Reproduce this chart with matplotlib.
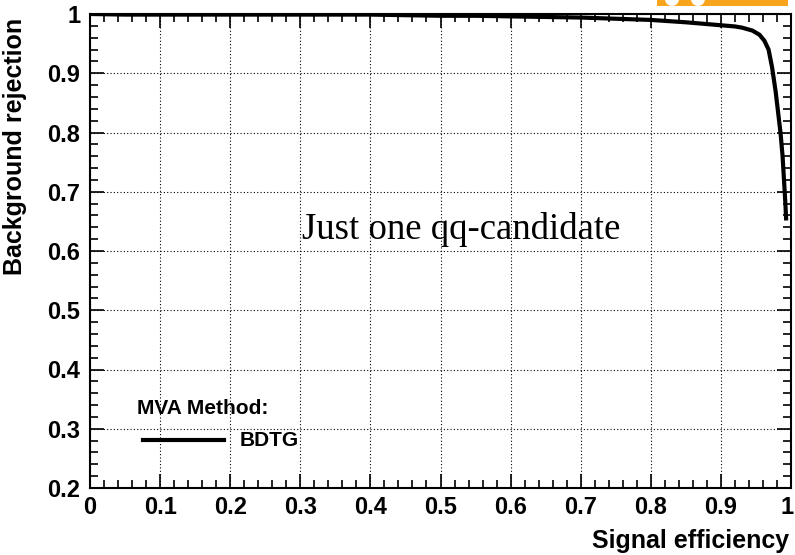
import matplotlib.pyplot as plt
import matplotlib.transforms as mtransforms
from matplotlib.patches import Rectangle, Ellipse
from matplotlib.ticker import MultipleLocator

# ROC curve
sigEff = [0.0, 0.05, 0.10, 0.20, 0.30, 0.40, 0.45, 0.50, 0.55, 0.60, 0.65, 0.70,
          0.75, 0.80, 0.85, 0.87, 0.90, 0.92, 0.93, 0.945, 0.955, 0.962,
          0.968, 0.973, 0.978, 0.982, 0.985, 0.988, 0.990, 0.992, 0.993]
bkgRej = [1.0, 0.999, 0.999, 0.999, 0.999, 0.999, 0.998, 0.997, 0.997, 0.996, 0.995, 0.994,
          0.992, 0.990, 0.986, 0.984, 0.981, 0.979, 0.977, 0.972, 0.965, 0.955,
          0.94, 0.91, 0.87, 0.83, 0.80, 0.76, 0.72, 0.68, 0.655]

xTicks = [0, 0.1, 0.2, 0.3, 0.4, 0.5, 0.6, 0.7, 0.8, 0.9, 1]
yTicks = [0.2, 0.3, 0.4, 0.5, 0.6, 0.7, 0.8, 0.9, 1]
xTickLabels = ['0', '0.1', '0.2', '0.3', '0.4', '0.5', '0.6', '0.7', '0.8', '0.9', '1']
yTickLabels = ['0.2', '0.3', '0.4', '0.5', '0.6', '0.7', '0.8', '0.9', '1']

bold = 'Liberation Sans'

fig = plt.figure(figsize=(7.95, 5.55), dpi=100)
ax = fig.add_axes([90/795, 67/555, 701/795, 474/555])

ax.plot(sigEff, bkgRej, color='black', lw=3, solid_joinstyle='miter', zorder=5)

ax.set_xlim(0, 1)
ax.set_ylim(0.2, 1)
ax.set_xticks(xTicks)
ax.set_xticklabels(xTickLabels)
ax.set_yticks(yTicks)
ax.set_yticklabels(yTickLabels)
ax.xaxis.set_minor_locator(MultipleLocator(0.02))
ax.yaxis.set_minor_locator(MultipleLocator(0.02))
ax.tick_params(axis='both', which='both', direction='in', top=True, right=True,
               width=1.2, labelsize=17)
ax.tick_params(axis='both', which='major', length=10)
ax.tick_params(axis='both', which='minor', length=6)
ax.tick_params(axis='x', which='both', pad=6)
ax.tick_params(axis='y', which='both', pad=7)
for lab in ax.get_xticklabels() + ax.get_yticklabels():
    lab.set_fontfamily(bold)
    lab.set_fontweight('bold')
# last label sits right at the edge, nudge it in a bit
lastLab = ax.get_xticklabels()[-1]
lastLab.set_transform(lastLab.get_transform() +
                      mtransforms.ScaledTranslation(-4/100, 0, fig.dpi_scale_trans))
for s in ax.spines.values():
    s.set_linewidth(1.5)

ax.grid(True, which='major', color='black', ls=(0, (1, 2)), lw=0.8)

ax.set_xlabel('Signal efficiency', fontsize=18, fontweight='bold', family=bold)
ax.xaxis.set_label_coords(0.997, -0.112)
ax.xaxis.label.set_horizontalalignment('right')
ax.xaxis.label.set_verticalalignment('center')
ax.set_ylabel('Background rejection', fontsize=18, fontweight='bold', family=bold)
ax.yaxis.set_label_coords(-0.107, 0.991)
ax.yaxis.label.set_verticalalignment('center')
ax.yaxis.label.set_horizontalalignment('right')

# legend, ROOT style
fig.text(137/795, 1 - 408/555, 'MVA Method:', fontsize=15, fontweight='bold',
         family=bold, va='center', ha='left')
fig.add_artist(plt.Line2D([143/795, 224/795], [1 - 440/555, 1 - 440/555],
                          color='black', lw=3))
fig.text(240/795, 1 - 440/555, 'BDTG', fontsize=15, fontweight='bold',
         family=bold, va='center', ha='left')

ax.text(0.529, 0.637, 'Just one qq-candidate', fontsize=26.5, family='Liberation Serif',
        ha='center', va='center', zorder=6)

# bit of the TMVA logo peeking in at the top
fig.add_artist(Rectangle((657/795, 1 - 6/555), 131/795, 6/555, transform=fig.transFigure,
                         color='#f8a51d', lw=0))
for cx in [672, 698]:
    fig.add_artist(Ellipse((cx/795, 1 + 1/555), 14/795, 14/555,
                           transform=fig.transFigure, color='white', lw=0))

fig.savefig('out.png', dpi=100)
